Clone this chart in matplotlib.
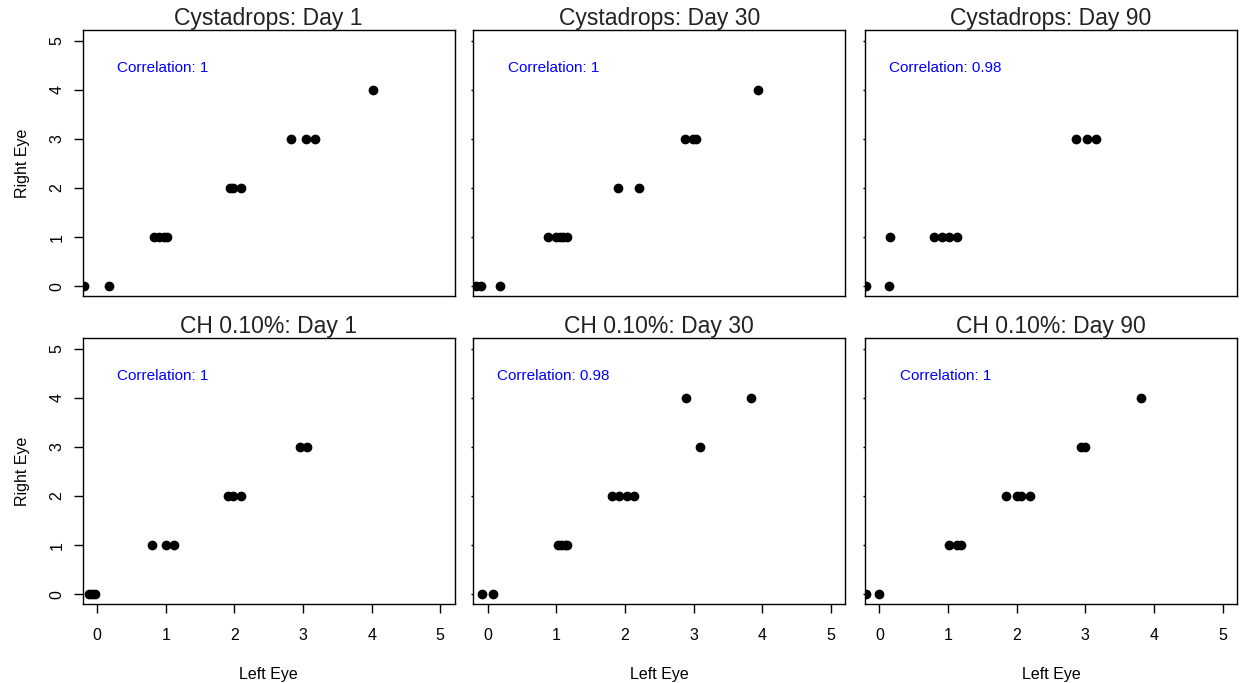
import matplotlib
matplotlib.use("Agg")
import matplotlib.pyplot as plt

plt.rcParams['font.family'] = ['Liberation Sans', 'DejaVu Sans']

titles = ["Cystadrops: Day 1", "Cystadrops: Day 30", "Cystadrops: Day 90",
          "CH 0.10%: Day 1", "CH 0.10%: Day 30", "CH 0.10%: Day 90"]
correlations = ["1", "1", "0.98", "1", "0.98", "1"]

# Left eye (x) and right eye (y) scores per panel
cys_d1_left = [-0.19, 0.17, 0.83, 0.90, 0.97, 1.02, 1.93, 1.98, 2.10, 2.83, 3.05, 3.17, 4.02]
cys_d1_right = [0, 0, 1, 1, 1, 1, 2, 2, 2, 3, 3, 3, 4]

cys_d30_left = [-0.17, -0.10, 0.18, 0.88, 1.00, 1.05, 1.10, 1.15, 1.90, 2.20, 2.87, 2.99, 3.04, 3.94]
cys_d30_right = [0, 0, 0, 1, 1, 1, 1, 1, 2, 2, 3, 3, 3, 4]

cys_d90_left = [-0.19, 0.14, 0.16, 0.80, 0.91, 1.02, 1.13, 2.86, 3.03, 3.15]
cys_d90_right = [0, 0, 1, 1, 1, 1, 1, 3, 3, 3]

ch_d1_left = [-0.12, -0.07, -0.03, 0.80, 1.01, 1.12, 1.90, 1.98, 2.10, 2.95, 3.06]
ch_d1_right = [0, 0, 0, 1, 1, 1, 2, 2, 2, 3, 3]

ch_d30_left = [-0.08, 0.07, 1.02, 1.07, 1.12, 1.15, 1.81, 1.92, 2.03, 2.13, 3.09, 2.89, 3.83]
ch_d30_right = [0, 0, 1, 1, 1, 1, 2, 2, 2, 2, 3, 4, 4]

ch_d90_left = [-0.19, -0.01, 1.02, 1.13, 1.19, 1.84, 2.01, 2.07, 2.19, 2.93, 2.99, 3.81]
ch_d90_right = [0, 0, 1, 1, 1, 2, 2, 2, 2, 3, 3, 4]

panels = [(cys_d1_left, cys_d1_right), (cys_d30_left, cys_d30_right),
          (cys_d90_left, cys_d90_right), (ch_d1_left, ch_d1_right),
          (ch_d30_left, ch_d30_right), (ch_d90_left, ch_d90_right)]

ticks = [0, 1, 2, 3, 4, 5]

W, H = 1243, 683
fig = plt.figure(figsize=(W / 100, H / 100), dpi=100)

col_left = [82.7, 473.3, 865.0]
row_top = [30.0, 338.0]
aw, ah = 372.0, 266.0

for i, (xs, ys) in enumerate(panels):
    r, c = divmod(i, 3)
    ax = fig.add_axes([col_left[c] / W, (H - row_top[r] - ah) / H, aw / W, ah / H])
    ax.plot(xs, ys, 'o', color='black', ms=6.0, mec='black')
    ax.set_xlim(-0.21, 5.21)
    ax.set_ylim(-0.2, 5.22)
    for s in ax.spines.values():
        s.set_linewidth(1.0)
        s.set_color('black')
    ax.set_title(titles[i], fontsize=16.5, pad=0.8, color='#222222')
    ax.text(0.96, 4.45, "Correlation: " + correlations[i], color='#0000FF',
            fontsize=11, ha='center', va='center')
    ax.set_xticks(ticks)
    ax.set_yticks(ticks)
    if r == 0:
        ax.tick_params(axis='x', bottom=False, labelbottom=False)
    else:
        ax.tick_params(axis='x', direction='out', length=6.5, width=1.0,
                       labelsize=11.5, pad=11)
        ax.set_xlabel("Left Eye", fontsize=11.5, labelpad=17)
    if c == 0:
        ax.tick_params(axis='y', direction='out', length=6.5, width=1.0,
                       labelsize=11.5, pad=6.5)
        for lab in ax.get_yticklabels():
            lab.set_rotation(90)
            lab.set_va('center')
        ax.set_ylabel("Right Eye", fontsize=11.5, labelpad=14)
    else:
        ax.tick_params(axis='y', direction='out', length=1.8, width=1.0,
                       labelleft=False)

fig.savefig("out.png", dpi=100)
